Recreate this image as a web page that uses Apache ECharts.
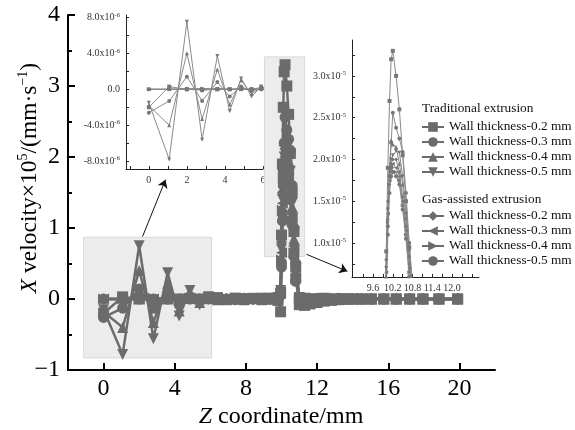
<!DOCTYPE html>
<html>
<head>
<meta charset="utf-8">
<script src="https://cdn.jsdelivr.net/npm/echarts@6/dist/echarts.min.js"></script>
<style>
  html, body { margin: 0; padding: 0; background: #fff; }
  #chart { width: 575px; height: 430px; }
</style>
</head>
<body>
<div id="chart"></div>
<script>
// Z coordinate (mm) shared by all series
const Z = [0, 1.07, 2.0, 2.8, 3.6, 4.25, 4.85, 5.4, 5.9,
  6.4, 6.9, 7.4, 7.9, 8.4, 8.9,
  9.3, 9.6, 9.8, 9.95, 10.0, 10.05, 10.1, 10.15, 10.2, 10.3, 10.4, 10.5, 10.6, 10.7, 10.8,
  11.0, 11.3, 11.6, 12.0, 12.4, 12.8, 13.2, 13.6, 14.0, 14.5,
  15.05, 15.75, 16.45, 17.2, 17.95, 18.85, 19.9];

// X velocity x 10^5 (mm/s)
const trad02 = [-0.20, 0.03, 0.00, -0.01, 0.00, 0.00, 0.01, 0.00, 0.02,
  0.02, -0.01, 0.01, 0.00, 0.01, -0.01,
  0.01, 0.00, -0.02, -0.18, 0.90, 1.90, 2.70, 3.20, 3.30, 3.00, 2.60, 2.05, 1.50, 0.95, 0.45,
  -0.08, -0.09, -0.07, -0.05, -0.03, -0.02, -0.01, 0.00, 0.00, 0.00,
  0, 0, 0, 0, 0, 0, 0];
const trad03 = [-0.26, -0.13, 0.14, -0.13, 0.08, -0.08, 0.03, -0.02, 0.01,
  0.01, 0.00, -0.01, 0.01, 0.00, 0.01,
  0.00, 0.01, 0.02, 0.05, 0.50, 1.20, 1.80, 2.20, 2.56, 2.38, 2.25, 2.09, 1.60, 1.00, 0.50,
  0.02, 0.01, 0.00, 0.01, 0.00, 0.00, 0.01, 0.00, 0.00, 0.00,
  0, 0, 0, 0, 0, 0, 0];
const trad04 = [-0.18, -0.40, 0.40, -0.33, 0.22, -0.17, 0.10, -0.05, 0.02,
  -0.01, 0.01, 0.00, -0.01, 0.01, 0.00,
  0.01, 0.00, 0.01, 0.08, 0.60, 1.30, 1.90, 2.23, 2.18, 2.15, 1.95, 1.70, 1.30, 0.85, 0.40,
  0.01, 0.00, 0.01, 0.00, 0.00, 0.01, 0.00, 0.00, 0.00, 0.00,
  0, 0, 0, 0, 0, 0, 0];
const trad05 = [-0.15, -0.78, 0.75, -0.56, 0.37, -0.24, 0.12, -0.08, 0.03,
  0.00, -0.01, 0.01, 0.00, -0.01, 0.01,
  0.00, 0.01, 0.02, 0.12, 0.70, 1.40, 1.80, 2.00, 2.05, 2.10, 2.08, 1.80, 1.35, 0.90, 0.45,
  0.02, 0.01, 0.00, 0.00, 0.01, 0.00, 0.00, 0.00, 0.00, 0.00,
  0, 0, 0, 0, 0, 0, 0];
const gas02 = [0.00, 0.00, 0.01, 0.00, 0.00, 0.00, 0.00, 0.00, 0.00,
  0.01, 0.00, 0.00, 0.01, 0.00, 0.00,
  0.00, 0.01, 0.03, 0.15, 0.80, 1.50, 1.85, 1.95, 2.00, 2.00, 1.85, 1.55, 1.20, 0.75, 0.35,
  0.01, 0.00, 0.00, 0.00, 0.00, 0.00, 0.00, 0.00, 0.00, 0.00,
  0, 0, 0, 0, 0, 0, 0];
const gas03 = [0.00, 0.00, 0.00, 0.00, 0.01, 0.00, 0.00, 0.00, 0.00,
  0.00, 0.01, 0.00, 0.00, 0.01, 0.00,
  0.01, 0.00, 0.02, 0.10, 0.65, 1.35, 1.75, 1.92, 1.95, 1.90, 1.80, 1.50, 1.15, 0.70, 0.30,
  0.00, 0.01, 0.00, 0.00, 0.00, 0.00, 0.00, 0.00, 0.00, 0.00,
  0, 0, 0, 0, 0, 0, 0];
const gas04 = [0.00, 0.00, 0.00, 0.01, 0.00, 0.00, 0.00, 0.00, 0.00,
  0.00, 0.00, 0.01, 0.00, 0.00, 0.01,
  0.00, 0.01, 0.01, 0.08, 0.55, 1.25, 1.70, 1.88, 1.90, 1.85, 1.75, 1.45, 1.10, 0.65, 0.28,
  0.01, 0.00, 0.00, 0.00, 0.00, 0.00, 0.00, 0.00, 0.00, 0.00,
  0, 0, 0, 0, 0, 0, 0];
const gas05 = [0.00, 0.00, 0.00, 0.00, 0.00, 0.00, 0.00, 0.00, 0.00,
  0.00, 0.00, 0.00, 0.00, 0.00, 0.00,
  0.00, 0.00, 0.01, 0.06, 0.45, 1.10, 1.60, 1.80, 1.85, 1.80, 1.70, 1.40, 1.05, 0.60, 0.25,
  0.00, 0.00, 0.00, 0.00, 0.00, 0.00, 0.00, 0.00, 0.00, 0.00,
  0, 0, 0, 0, 0, 0, 0];

const tradNames = ['Traditional 0.2', 'Traditional 0.3', 'Traditional 0.4', 'Traditional 0.5'];
const gasNames = ['Gas 0.2', 'Gas 0.3', 'Gas 0.4', 'Gas 0.5'];
const allValues = [trad02, trad03, trad04, trad05, gas02, gas03, gas04, gas05];

// tick labels
const mainXLabels = [0, 4, 8, 12, 16, 20];
const mainXMinor = [2, 6, 10, 14, 18];
const inset1XLabels = [0, 2, 4, 6];
const inset1XTicks = [-1, 0, 1, 2, 3, 4, 5, 6];
const inset1YLabels = [-0.8, -0.4, 0, 0.4, 0.8];
const inset1YTicks = [-0.8, -0.6, -0.4, -0.2, 0, 0.2, 0.4, 0.6, 0.8];
const inset2XLabels = [9.6, 10.2, 10.8, 11.4, 12.0];
const inset2XTicks = [9.3, 9.6, 9.9, 10.2, 10.5, 10.8, 11.1, 11.4, 11.7, 12.0, 12.3, 12.6];
const inset2YLabels = [1.0, 1.5, 2.0, 2.5, 3.0];
const inset2YTicks = [0.75, 1.0, 1.25, 1.5, 1.75, 2.0, 2.25, 2.5, 2.75, 3.0, 3.25];

const symbols = ['rect', 'circle', 'triangle', 'triangle', 'diamond', 'triangle', 'triangle', 'circle'];
const rotates = [0, 0, 0, 180, 0, 90, -90, 0];
const FONT = 'Liberation Serif';
const GRAY = '#6b6b6b';

const chart = echarts.init(document.getElementById('chart'));

const names = tradNames.concat(gasNames);
const series = [];

// shaded boxes and arrows
series.push({
  type: 'line', xAxisIndex: 0, yAxisIndex: 0, data: [], z: 1, silent: true,
  markArea: {
    silent: true,
    itemStyle: { color: '#ececec', borderColor: '#d8d8d8', borderWidth: 1 },
    data: [
      [{ coord: [-1.12, 0.87] }, { coord: [6.07, -0.83] }],
      [{ coord: [9.04, 3.41] }, { coord: [11.3, 0.6] }]
    ]
  },
  markLine: {
    silent: true,
    symbol: ['none', 'arrow'],
    symbolSize: 8,
    label: { show: false },
    lineStyle: { color: '#111', width: 1, type: 'solid' },
    data: [
      [{ coord: [2.19, 0.88] }, { coord: [3.48, 1.68] }],
      [{ coord: [11.4, 0.63] }, { coord: [13.7, 0.39] }]
    ]
  }
});

names.forEach((name, i) => {
  const data = Z.map((z, k) => [z, allValues[i][k]]);
  series.push({
    name, type: 'line', xAxisIndex: 0, yAxisIndex: 0, data, z: 3,
    symbol: symbols[i], symbolRotate: rotates[i], symbolSize: 11, showAllSymbol: true,
    itemStyle: { color: GRAY },
    lineStyle: { color: GRAY, width: 2.5 }
  });
});
names.forEach((name, i) => {
  const data = Z.map((z, k) => [z, allValues[i][k]]);
  series.push({
    name, type: 'line', xAxisIndex: 2, yAxisIndex: 1, data, z: 3, clip: true,
    symbol: symbols[i], symbolRotate: rotates[i], symbolSize: 4, showAllSymbol: true,
    itemStyle: { color: '#777' },
    lineStyle: { color: '#8a8a8a', width: 1 }
  });
  series.push({
    name, type: 'line', xAxisIndex: 3, yAxisIndex: 2, data, z: 3, clip: true,
    symbol: symbols[i], symbolRotate: rotates[i], symbolSize: 4, showAllSymbol: true,
    itemStyle: { color: '#777' },
    lineStyle: { color: '#8a8a8a', width: 1 }
  });
});

const smallAxis = {
  axisLine: { show: true, onZero: false, lineStyle: { color: '#222', width: 1 } },
  splitLine: { show: false }
};
const supRich = {
  n: { fontFamily: FONT, fontSize: 10, color: '#333', lineHeight: 12 },
  s: { fontFamily: FONT, fontSize: 6.5, color: '#333', lineHeight: 12, verticalAlign: 'top' }
};

const legendText = { fontFamily: FONT, fontSize: 13.3, color: '#111', lineHeight: 15 };
const fmtLegend = name => 'Wall thickness-' + name.split(' ')[1] + ' mm';

chart.setOption({
  animation: false,
  grid: [
    { left: 68, top: 15, width: 427, height: 355 },
    { left: 126, top: 15, width: 137, height: 154 },
    { left: 352, top: 40, width: 127, height: 237 }
  ],
  xAxis: [
    {
      type: 'value', gridIndex: 0, min: -2, max: 22,
      axisLine: { onZero: false, lineStyle: { color: '#000', width: 2 } },
      axisTick: { inside: true, length: 7, lineStyle: { width: 2, color: '#000' }, customValues: mainXLabels },
      axisLabel: { customValues: mainXLabels, fontFamily: FONT, fontSize: 24, color: '#000', margin: 7 },
      splitLine: { show: false }
    },
    {
      type: 'value', gridIndex: 0, min: -2, max: 22, position: 'bottom',
      axisLine: { show: false },
      axisTick: { inside: true, length: 4, lineStyle: { width: 2, color: '#000' }, customValues: mainXMinor },
      axisLabel: { show: false },
      splitLine: { show: false }
    },
    Object.assign({
      type: 'value', gridIndex: 1, min: -1.2, max: 6,
      axisTick: { inside: true, length: 3, lineStyle: { color: '#222' }, customValues: inset1XTicks },
      axisLabel: { customValues: inset1XLabels, fontFamily: FONT, fontSize: 10, color: '#333', margin: 6 }
    }, smallAxis),
    Object.assign({
      type: 'value', gridIndex: 2, min: 8.96, max: 12.82,
      axisTick: { inside: true, length: 3, lineStyle: { color: '#222' }, customValues: inset2XTicks },
      axisLabel: { customValues: inset2XLabels, fontFamily: FONT, fontSize: 10, color: '#333', margin: 6,
        formatter: v => v.toFixed(1) }
    }, smallAxis)
  ],
  yAxis: [
    {
      type: 'value', gridIndex: 0, min: -1, max: 4, interval: 1,
      axisLine: { show: true, onZero: false, lineStyle: { color: '#000', width: 2 } },
      axisTick: { inside: true, length: 7, lineStyle: { width: 2, color: '#000' } },
      minorTick: { show: true, splitNumber: 2, length: 4, lineStyle: { width: 2, color: '#000' } },
      axisLabel: { fontFamily: FONT, fontSize: 24, color: '#000', margin: 8,
        formatter: v => v < 0 ? '\u2212' + Math.abs(v) : String(v) },
      splitLine: { show: false }, minorSplitLine: { show: false }
    },
    Object.assign({
      type: 'value', gridIndex: 1, min: -0.886, max: 0.826,
      axisTick: { inside: true, length: 3, lineStyle: { color: '#222' }, customValues: inset1YTicks },
      axisLabel: { customValues: inset1YLabels, margin: 6, rich: supRich,
        formatter: v => Math.abs(v) < 1e-9 ? '{n|0.0}' : '{n|' + (v * 10).toFixed(1) + 'x10}{s|-6}' }
    }, smallAxis),
    Object.assign({
      type: 'value', gridIndex: 2, min: 0.593, max: 3.43,
      axisTick: { inside: true, length: 3, lineStyle: { color: '#222' }, customValues: inset2YTicks },
      axisLabel: { customValues: inset2YLabels, margin: 6, rich: supRich,
        formatter: v => '{n|' + v.toFixed(1) + 'x10}{s|-5}' }
    }, smallAxis)
  ],
  legend: [
    {
      data: tradNames, orient: 'vertical', left: 421, top: 119.5, itemGap: 0, padding: 0,
      itemWidth: 22, itemHeight: 12, selectedMode: false, formatter: fmtLegend, textStyle: legendText
    },
    {
      data: gasNames, orient: 'vertical', left: 421, top: 208.5, itemGap: 0, padding: 0,
      itemWidth: 22, itemHeight: 12, selectedMode: false, formatter: fmtLegend, textStyle: legendText
    }
  ],
  graphic: [
    { type: 'text', left: 422, top: 102, silent: true,
      style: { text: 'Traditional extrusion', fontFamily: FONT, fontSize: 13.3, fill: '#111' } },
    { type: 'text', left: 422, top: 193, silent: true,
      style: { text: 'Gas-assisted extrusion', fontFamily: FONT, fontSize: 13.3, fill: '#111' } },
    { type: 'text', x: 281, y: 417, silent: true,
      style: {
        text: '{i|Z}{n| coordinate/mm}', align: 'center', verticalAlign: 'middle',
        rich: {
          i: { fontFamily: FONT, fontSize: 24, fontStyle: 'italic', fill: '#000' },
          n: { fontFamily: FONT, fontSize: 24, fill: '#000' }
        }
      } },
    { type: 'text', x: 30, y: 178, rotation: Math.PI / 2, silent: true,
      style: {
        text: '{i|X}{n| velocity\u00d710}{s|5}{n|/(mm\u00b7s}{s|\u22121}{n|)}', align: 'center', verticalAlign: 'middle',
        rich: {
          i: { fontFamily: FONT, fontSize: 23.5, fontStyle: 'italic', fill: '#000', lineHeight: 27 },
          n: { fontFamily: FONT, fontSize: 23.5, fill: '#000', lineHeight: 27 },
          s: { fontFamily: FONT, fontSize: 14, fill: '#000', lineHeight: 27, verticalAlign: 'top' }
        }
      } }
  ],
  series
});
</script>
</body>
</html>
